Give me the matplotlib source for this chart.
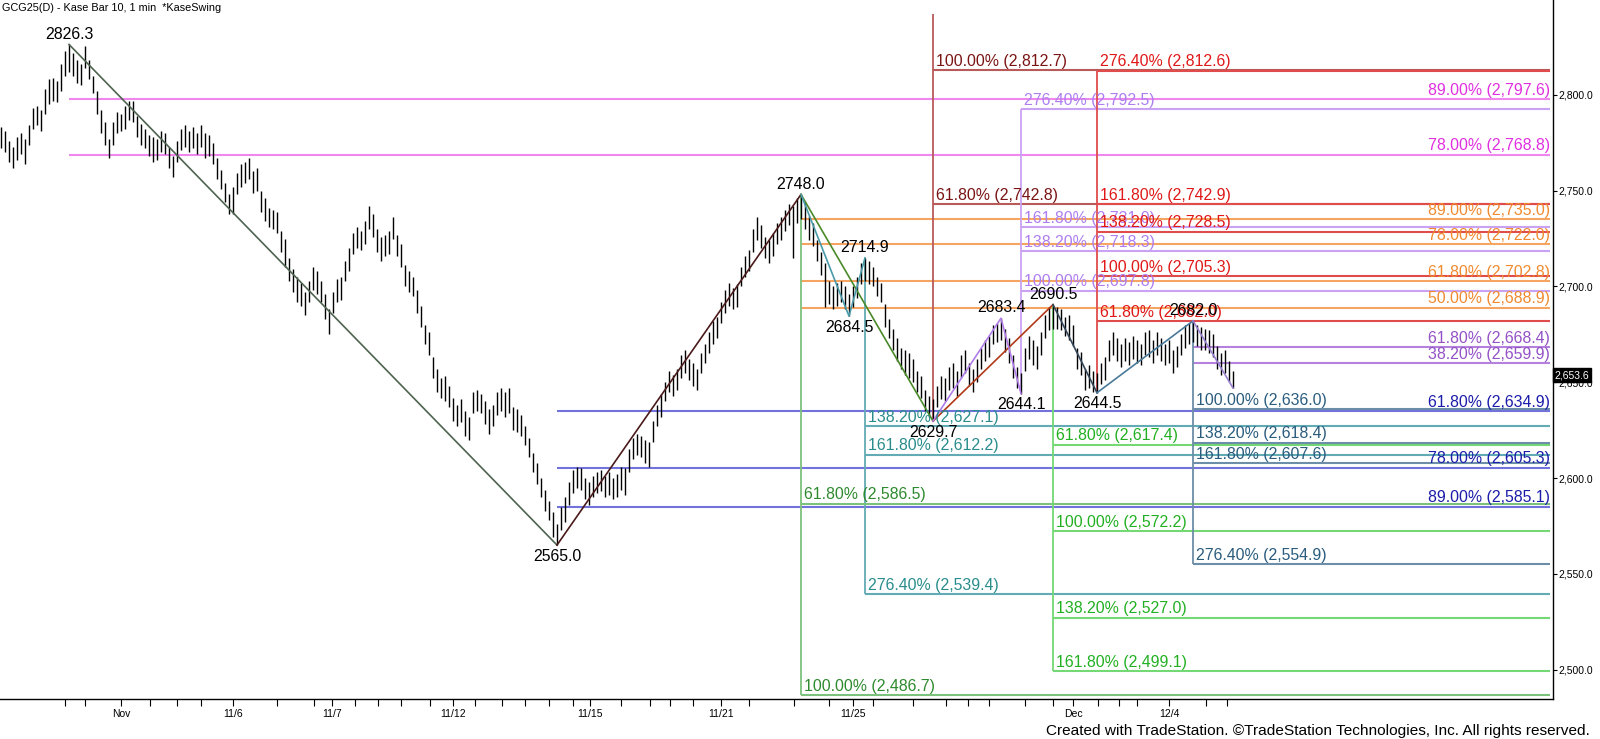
import matplotlib
matplotlib.use("Agg")
import matplotlib.pyplot as plt
import matplotlib.transforms as mtransforms

plt.rcParams["font.family"] = ["Liberation Sans", "DejaVu Sans"]

# ---- price bars (Kase bars, one per index) ----
highs = [
    2783, 2781, 2776, 2773, 2778, 2780, 2777, 2784, 2793, 2794, 2792, 2803, 2808, 2809, 2807, 2816, 2823, 2826.3,
    2822, 2818, 2816, 2825.5, 2818, 2810, 2802, 2792, 2786, 2777, 2786, 2791, 2790, 2794, 2797, 2797, 2789, 2785, 2782, 2779, 2778, 2777,
    2781, 2780, 2773, 2768, 2776, 2782, 2784, 2781, 2783, 2780, 2784, 2780, 2779, 2775, 2767, 2761, 2754, 2748, 2752, 2759,
    2764, 2765, 2767, 2760, 2762, 2750, 2746, 2741, 2740, 2739, 2729, 2725, 2715, 2709, 2705, 2702, 2697, 2703, 2710, 2708,
    2703, 2696, 2688, 2697, 2704, 2705, 2713, 2720, 2728, 2731, 2729, 2734, 2742, 2738, 2730, 2726, 2727, 2729, 2736, 2727,
    2722, 2711, 2708, 2705, 2698, 2690, 2680, 2676, 2663, 2657, 2652, 2653, 2648, 2642, 2638, 2641, 2635, 2632, 2645, 2646,
    2644, 2640, 2636, 2638, 2645, 2647, 2645, 2647, 2637, 2636, 2633, 2627, 2621, 2613, 2608, 2600, 2594, 2588, 2582, 2576,
    2585, 2590, 2598, 2604, 2606, 2605, 2600, 2598, 2601, 2603, 2604, 2601, 2603, 2600, 2602, 2606, 2605, 2615, 2621, 2623,
    2622, 2620, 2619, 2630, 2638, 2644, 2650, 2656, 2654, 2657, 2664, 2667, 2662, 2660, 2657, 2665, 2670, 2676, 2682, 2684,
    2692, 2698, 2702, 2699, 2701, 2710, 2716, 2719, 2730, 2736, 2732, 2726, 2724, 2728, 2733, 2736, 2740, 2743, 2742, 2746, 2748.0,
    2744, 2737, 2733, 2724, 2718, 2712, 2703, 2700, 2702, 2703, 2700, 2696, 2700, 2705, 2712, 2714.9, 2713, 2710, 2705, 2702,
    2691, 2683, 2678, 2673, 2668, 2667, 2665, 2662, 2656, 2653, 2646, 2643, 2641, 2648, 2653, 2652, 2658, 2660, 2656, 2664,
    2667, 2660, 2657, 2662, 2668, 2672, 2674, 2680, 2681, 2683.4, 2678, 2673, 2664, 2658, 2655, 2668, 2674, 2672, 2669, 2676,
    2685, 2689, 2690.5, 2689, 2688, 2684, 2685, 2680, 2668, 2666, 2657, 2659, 2656, 2655, 2660, 2663, 2672, 2676, 2673, 2670,
    2673, 2671, 2674, 2672, 2670, 2676, 2677, 2672, 2676, 2673, 2670, 2672, 2667, 2669, 2675, 2680, 2681, 2682.0, 2680, 2679,
    2678, 2677, 2675, 2669, 2665, 2667, 2661, 2656,
]
lows = [
    2772, 2770, 2765, 2762, 2766, 2769, 2764, 2774, 2782, 2784, 2781, 2790, 2795, 2797, 2796, 2802, 2810, 2812,
    2810, 2806, 2805, 2814, 2808, 2801, 2790, 2780, 2774, 2767, 2774, 2780, 2781, 2782, 2787, 2786, 2778, 2774, 2772, 2768, 2765, 2766,
    2770, 2769, 2762, 2757, 2765, 2771, 2773, 2770, 2772, 2769, 2773, 2767, 2768, 2764, 2756, 2751, 2744, 2738, 2738, 2748,
    2752, 2754, 2756, 2749, 2750, 2739, 2734, 2731, 2730, 2728, 2718, 2710, 2703, 2697, 2692, 2690, 2685, 2692, 2698, 2696,
    2692, 2683, 2675, 2686, 2692, 2693, 2703, 2708, 2717, 2720, 2719, 2722, 2730, 2726, 2718, 2713, 2716, 2717, 2725, 2716,
    2710, 2700, 2697, 2695, 2686, 2679, 2670, 2664, 2652, 2645, 2642, 2640, 2637, 2630, 2627, 2629, 2622, 2620, 2634, 2635,
    2634, 2628, 2623, 2627, 2633, 2635, 2632, 2634, 2625, 2624, 2622, 2617, 2611, 2603, 2597, 2590, 2583, 2578, 2569, 2565.0,
    2573, 2577, 2586, 2592, 2595, 2594, 2589, 2586, 2590, 2592, 2593, 2590, 2591, 2589, 2590, 2594, 2591, 2603, 2610, 2612,
    2611, 2608, 2606, 2619, 2627, 2632, 2640, 2645, 2643, 2646, 2652, 2655, 2651, 2648, 2646, 2655, 2660, 2665, 2670, 2673,
    2681, 2686, 2690, 2688, 2689, 2700, 2705, 2708, 2718, 2724, 2720, 2715, 2712, 2716, 2722, 2724, 2729, 2732, 2715, 2733, 2735,
    2730, 2724, 2721, 2713, 2706, 2689, 2691, 2688, 2690, 2692, 2688, 2684.5, 2689, 2694, 2701, 2703, 2701, 2700, 2695, 2692,
    2679, 2673, 2667, 2661, 2657, 2654, 2652, 2650, 2645, 2642, 2635, 2632, 2629.7, 2637, 2641, 2640, 2646, 2647, 2643, 2652,
    2655, 2648, 2645, 2650, 2657, 2661, 2663, 2670, 2671, 2672, 2666, 2660, 2652, 2647, 2644.1, 2656, 2662, 2659, 2657, 2664,
    2673, 2677, 2678, 2678, 2677, 2674, 2672, 2669, 2657, 2654, 2646, 2647, 2645, 2644.5, 2649, 2651, 2661, 2664, 2661, 2658,
    2661, 2659, 2662, 2660, 2659, 2664, 2663, 2660, 2664, 2661, 2659, 2660, 2655, 2658, 2664, 2668, 2670, 2671, 2669, 2667,
    2667, 2665, 2663, 2657, 2654, 2655, 2650, 2647,
]
last_price = 2653.6

# ---- swing points ----
swing_idx = [17, 139, 200, 212, 216, 233, 250, 255, 263, 274, 298, 308]
swing_px = [2826.3, 2565.0, 2748.0, 2684.5, 2714.9, 2629.7, 2683.4, 2644.1, 2690.5, 2644.5, 2682.0, 2647.0]
swing_lbl = ["2826.3", "2565.0", "2748.0", "2684.5", "2714.9", "2629.7", "2683.4", "2644.1", "2690.5", "2644.5", "2682.0", ""]
swing_up = [True, False, True, False, True, False, True, False, True, False, True, False]

# zigzag legs: (list of swing numbers, colour)
legs = [
    ([0, 1], "#4f6450"),
    ([1, 2], "#4a1a1a"),
    ([2, 5], "#4a8a2a"),
    ([2, 3, 4], "#4a9aaa"),
    ([5, 8], "#b03a1a"),
    ([5, 6, 7], "#b07ce8"),
    ([8, 9], "#34475a"),
    ([9, 10], "#4a7a9a"),
    ([10, 11], "#9a80d0"),
]

# ---- fibonacci groups ----
# start bar, vertical extent (or None), percents, prices, label side, line colour, text colour
fib_groups = [
    dict(start=17, vert=None, pcts=["89.00%", "78.00%"], prices=[2797.6, 2768.8],
         side="right", lc="#ee88ee", tc="#e030e0"),
    dict(start=139, vert=None, pcts=["61.80%", "78.00%", "89.00%"], prices=[2634.9, 2605.3, 2585.1],
         side="right", lc="#7272dc", tc="#1c1caa"),
    dict(start=200, vert=None, pcts=["89.00%", "78.00%", "61.80%", "50.00%"],
         prices=[2735.0, 2722.0, 2702.8, 2688.9], side="right", lc="#f5a462", tc="#f08a30"),
    dict(start=298, vert=None, pcts=["61.80%", "38.20%"], prices=[2668.4, 2659.9],
         side="right", lc="#b482dc", tc="#9452c6"),
    dict(start=233, vert=(2629.7, 2842.0), pcts=["100.00%", "61.80%"], prices=[2812.7, 2742.8],
         side="left", lc="#b85a5a", tc="#7a1414"),
    dict(start=255, vert=(2644.1, 2792.5), pcts=["276.40%", "161.80%", "138.20%", "100.00%"],
         prices=[2792.5, 2731.0, 2718.3, 2697.8], side="left", lc="#caa2f4", tc="#ae7ef0"),
    dict(start=274, vert=(2644.5, 2812.6), pcts=["276.40%", "161.80%", "138.20%", "100.00%", "61.80%"],
         prices=[2812.6, 2742.9, 2728.5, 2705.3, 2682.0], side="left", lc="#e04c4c", tc="#e01818"),
    dict(start=216, vert=(2539.4, 2714.9), pcts=["138.20%", "161.80%", "276.40%"],
         prices=[2627.1, 2612.2, 2539.4], side="left", lc="#62aab4", tc="#2a8c8c"),
    dict(start=200, vert=(2486.7, 2748.0), pcts=["61.80%", "100.00%"], prices=[2586.5, 2486.7],
         side="left", lc="#7cc27c", tc="#2e8a2e"),
    dict(start=263, vert=(2499.1, 2690.5), pcts=["61.80%", "100.00%", "138.20%", "161.80%"],
         prices=[2617.4, 2572.2, 2527.0, 2499.1], side="left", lc="#74d874", tc="#22b022"),
    dict(start=298, vert=(2554.9, 2682.0), pcts=["100.00%", "138.20%", "161.80%", "276.40%"],
         prices=[2636.0, 2618.4, 2607.6, 2554.9], side="left", lc="#6c8ea8", tc="#2a5c7e"),
]

# ---- axis ticks ----
price_ticks = [2500, 2550, 2600, 2650, 2700, 2750, 2800]
tick_bars = [16, 21, 30, 37.25, 44, 50, 58, 69, 78.25, 82.75, 88.5, 94.25, 100, 107.25, 113,
             118.5, 125.25, 131, 137, 143, 147.25, 155, 162.25, 167.25, 173, 180, 187, 198.25,
             207, 213, 218, 228, 236.25, 241.75, 247, 256, 263, 268, 274.25, 279.5, 284, 292,
             301.25, 306.5]
date_bars = [30, 58, 82.75, 113, 147.25, 180, 213, 268, 292]
date_labels = ["Nov", "11/6", "11/7", "11/12", "11/15", "11/21", "11/25", "Dec", "12/4"]

X_END = 387.25

fig = plt.figure(figsize=(16, 7.39), dpi=100)
ax = fig.add_axes([0, 40 / 739, 1553 / 1600, 699 / 739])
ax.set_xlim(-0.25, 388)
ax.set_ylim(2484.66, 2849.48)

# fib lines + labels
for g in fib_groups:
    ax.hlines(g["prices"], g["start"], X_END, colors=g["lc"], lw=1.5, zorder=1)
    if g["vert"] is not None:
        ax.vlines(g["start"], g["vert"][0], g["vert"][1], colors=g["lc"], lw=1.3, zorder=1)
    for pct, p in zip(g["pcts"], g["prices"]):
        txt = f"{pct} ({p:,.1f})"
        if g["side"] == "right":
            ax.annotate(txt, (X_END, p), xytext=(0, 1), textcoords="offset points",
                        ha="right", va="bottom", fontsize=11.4, color=g["tc"], zorder=4)
        else:
            ax.annotate(txt, (g["start"], p), xytext=(2.5, 1), textcoords="offset points",
                        ha="left", va="bottom", fontsize=11.4, color=g["tc"], zorder=4)

# bars
ax.vlines(range(len(highs)), lows, highs, colors="black", lw=1.0, zorder=2)

# swing lines
for pts, col in legs:
    ax.plot([swing_idx[k] for k in pts], [swing_px[k] for k in pts], color=col, lw=1.2, zorder=3)

# swing labels
for i, p, lbl, up in zip(swing_idx, swing_px, swing_lbl, swing_up):
    if not lbl:
        continue
    if up:
        ax.annotate(lbl, (i, p), xytext=(0, 2), textcoords="offset points",
                    ha="center", va="bottom", fontsize=11.4, color="black", zorder=5)
    else:
        ax.annotate(lbl, (i, p), xytext=(0, -2.5), textcoords="offset points",
                    ha="center", va="top", fontsize=11.4, color="black", zorder=5)

# axes styling
for s in ["left", "top"]:
    ax.spines[s].set_visible(False)
for s in ["right", "bottom"]:
    ax.spines[s].set_linewidth(1.0)
    ax.spines[s].set_color("black")

ax.yaxis.tick_right()
ax.set_yticks(price_ticks)
ax.set_yticklabels([f"{v:,.1f}" for v in price_ticks])
ax.tick_params(axis="y", direction="out", length=3, width=0.8, labelsize=7.5, pad=1)

ax.set_xticks(tick_bars)
ax.set_xticklabels([date_labels[date_bars.index(t)] if t in date_bars else "" for t in tick_bars])
ax.tick_params(axis="x", direction="out", length=5, width=0.8, labelsize=7.5, pad=2)

trans = mtransforms.blended_transform_factory(ax.transAxes, ax.transData)
ax.text(1.001, last_price, f"{last_price:,.1f}", transform=trans, color="white", fontsize=7.5,
        ha="left", va="center", clip_on=False, zorder=10,
        bbox=dict(boxstyle="square,pad=0.18", fc="black", ec="black"))

fig.text(2 / 1600, 1 - 8 / 739, "GCG25(D) - Kase Bar 10, 1 min  *KaseSwing", fontsize=7.8,
         ha="left", va="center", color="black")
fig.text(1590 / 1600, 8 / 739,
         "Created with TradeStation. \u00a9TradeStation Technologies, Inc. All rights reserved.",
         fontsize=11.1, ha="right", va="center", color="black")

fig.savefig("out.png", dpi=100)
